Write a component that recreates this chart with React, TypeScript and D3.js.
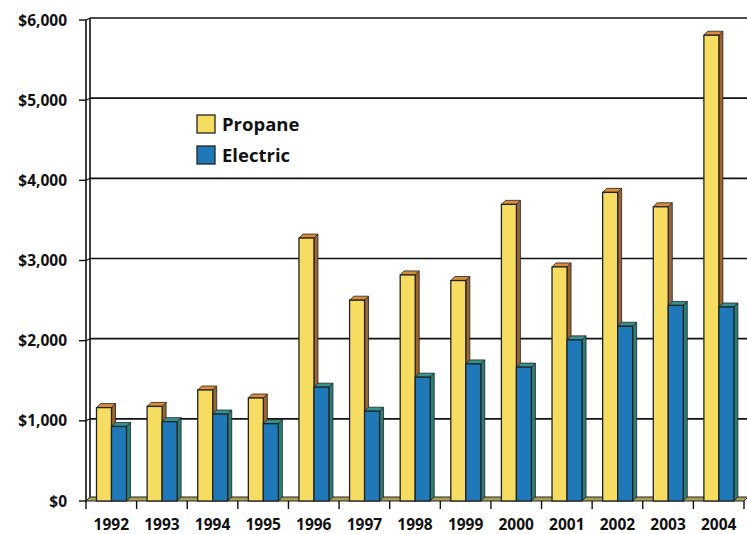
import React from "react";
import * as d3 from "d3";

const years = ["1992","1993","1994","1995","1996","1997","1998","1999","2000","2001","2002","2003","2004"];
const propane = [1165, 1180, 1385, 1285, 3280, 2505, 2820, 2750, 3700, 2920, 3850, 3670, 5810];
const electric = [930, 990, 1085, 965, 1420, 1120, 1545, 1710, 1670, 2010, 2180, 2440, 2420];
const yTicks = [0, 1000, 2000, 3000, 4000, 5000, 6000];
const seriesNames = ["Propane", "Electric"];

const W = 747, H = 534;
const DX = 4, DY = 4;

const colors = {
  Propane: { face: "#F6DC60", side: "#9C6430", top: "#D98C3C" },
  Electric: { face: "#1F78B8", side: "#2A7E76", top: "#33948F" },
};

export default function App() {
  const x = d3.scaleBand<string>().domain(years).range([86, 744]);
  const xs = d3.scaleBand<string>().domain(seriesNames).range([10.5, 40.5]);
  const y = d3.scaleLinear().domain([0, 6000]).range([501, 20]);
  const fmt = (v: number) => "$" + d3.format(",")(v);
  const data = [propane, electric];
  const font = "'Open Sans', sans-serif";

  return (
    <svg width={W} height={H} style={{ position: "absolute", left: 0, top: 0 }}>
      <rect width={W} height={H} fill="#fff" />
      {yTicks.filter(t => t > 0).map(t => (
        <g key={t}>
          <line x1={90} x2={W} y1={y(t) - 2} y2={y(t) - 2} stroke="#111" strokeWidth={1.6} />
          <line x1={86} x2={90} y1={y(t)} y2={y(t) - 2} stroke="#111" strokeWidth={1.2} />
          <line x1={79} x2={86} y1={y(t)} y2={y(t)} stroke="#111" strokeWidth={1.4} />
        </g>
      ))}
      <line x1={79} x2={86} y1={y(0)} y2={y(0)} stroke="#111" strokeWidth={1.4} />
      <line x1={86} x2={86} y1={y(6000)} y2={y(0) + 1} stroke="#111" strokeWidth={1.6} />
      <line x1={90} x2={90} y1={y(6000) - 2} y2={y(0) - 3} stroke="#111" strokeWidth={1.6} />
      <path d={`M86,${y(0)} L744,${y(0)} L748,${y(0) - 4} L90,${y(0) - 4} Z`} fill="#ABA257" stroke="#222" strokeWidth={1} />
      {years.map(yr => (
        <line key={yr} x1={x(yr)!} x2={x(yr)!} y1={y(0)} y2={y(0) + 8} stroke="#111" strokeWidth={1.4} />
      ))}
      <line x1={744} x2={744} y1={y(0)} y2={y(0) + 8} stroke="#111" strokeWidth={1.4} />
      {years.map((yr, i) => (
        <g key={yr}>
          {seriesNames.map((s, si) => {
            const v = data[si][i];
            const bx = x(yr)! + xs(s)!;
            const bw = xs.bandwidth();
            const top = y(v);
            const base = y(0);
            const c = (colors as any)[s];
            return (
              <g key={s}>
                <path d={`M${bx + bw},${top} L${bx + bw + DX},${top - DY} L${bx + bw + DX},${base - DY} L${bx + bw},${base} Z`} fill={c.side} stroke="#222" strokeWidth={0.8} />
                <path d={`M${bx},${top} L${bx + DX},${top - DY} L${bx + bw + DX},${top - DY} L${bx + bw},${top} Z`} fill={c.top} stroke="#222" strokeWidth={0.8} />
                <rect x={bx} y={top} width={bw} height={base - top} fill={c.face} stroke="#222" strokeWidth={1.3} />
              </g>
            );
          })}
        </g>
      ))}
      {yTicks.map(t => (
        <text key={t} x={67} y={y(t) + 5.5} textAnchor="end" fontFamily={font} fontWeight="bold" fontSize={15.5} fill="#111">{fmt(t)}</text>
      ))}
      {years.map(yr => (
        <text key={yr} x={x(yr)! + x.bandwidth() / 2} y={530} textAnchor="middle" fontFamily={font} fontWeight="bold" fontSize={15.5} fill="#111">{yr}</text>
      ))}
      {seriesNames.map((s, i) => (
        <g key={s} transform={`translate(197, ${115 + i * 31})`}>
          <rect x={0} y={0} width={18} height={18} fill={(colors as any)[s].face} stroke="#222" strokeWidth={1.3} />
          <text x={25} y={16} fontFamily={font} fontWeight="bold" fontSize={18.5} fill="#111">{s}</text>
        </g>
      ))}
    </svg>
  );
}
